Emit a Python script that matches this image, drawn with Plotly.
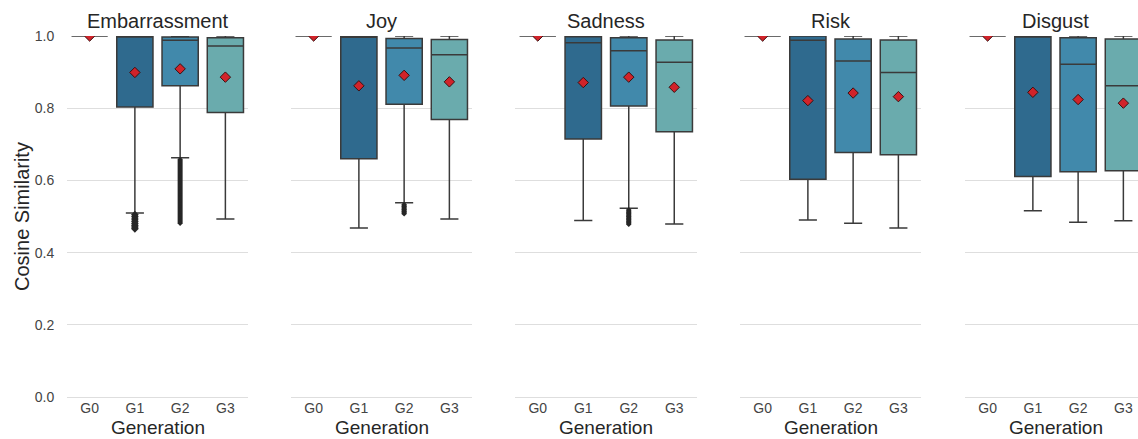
import plotly.graph_objects as go

emotions = ["Embarrassment", "Joy", "Sadness", "Risk", "Disgust"]
generations = ["G0", "G1", "G2", "G3"]
gen_colors = ["#24526f", "#2f6a8e", "#4189ab", "#6aabad"]

# rows = emotions, columns = G0..G3
q1_values = [
    [1.0, 0.803, 0.862, 0.788],
    [1.0, 0.660, 0.811, 0.769],
    [1.0, 0.715, 0.806, 0.735],
    [1.0, 0.603, 0.677, 0.671],
    [1.0, 0.611, 0.624, 0.627],
]
median_values = [
    [1.0, 0.999, 0.988, 0.972],
    [1.0, 0.998, 0.967, 0.948],
    [1.0, 0.981, 0.959, 0.927],
    [1.0, 0.988, 0.931, 0.899],
    [1.0, 0.999, 0.922, 0.862],
]
q3_values = [
    [1.0, 1.0, 0.997, 0.995],
    [1.0, 0.999, 0.993, 0.990],
    [1.0, 0.998, 0.995, 0.989],
    [1.0, 1.0, 0.992, 0.989],
    [1.0, 1.0, 0.995, 0.992],
]
lower_whisker = [
    [1.0, 0.510, 0.663, 0.493],
    [1.0, 0.468, 0.538, 0.493],
    [1.0, 0.489, 0.523, 0.479],
    [1.0, 0.490, 0.481, 0.468],
    [1.0, 0.516, 0.484, 0.488],
]
upper_whisker = [
    [1.0, 1.0, 1.0, 1.0],
    [1.0, 1.0, 1.0, 1.0],
    [1.0, 1.0, 1.0, 1.0],
    [1.0, 1.0, 1.0, 1.0],
    [1.0, 1.0, 1.0, 1.0],
]
mean_values = [
    [1.0, 0.899, 0.909, 0.886],
    [1.0, 0.862, 0.891, 0.873],
    [1.0, 0.871, 0.886, 0.858],
    [1.0, 0.821, 0.842, 0.832],
    [1.0, 0.844, 0.824, 0.814],
]

# outliers below the lower whisker
outliers_embarrassment_g1 = [0.505, 0.499, 0.493, 0.487, 0.481, 0.476, 0.471, 0.466]
outliers_embarrassment_g2 = [0.660, 0.645, 0.628, 0.611, 0.594, 0.577, 0.560,
                             0.543, 0.527, 0.512, 0.498, 0.487, 0.479]
outliers_joy_g2 = [0.534, 0.527, 0.520, 0.513, 0.507]
outliers_sadness_g2 = [0.519, 0.510, 0.501, 0.493, 0.485, 0.478]
outlier_sets = [
    (0, "G1", outliers_embarrassment_g1, 6),
    (0, "G2", outliers_embarrassment_g2, 3),
    (1, "G2", outliers_joy_g2, 4),
    (2, "G2", outliers_sadness_g2, 4),
]

y_ticks = [0.0, 0.2, 0.4, 0.6, 0.8, 1.0]

W, H = 1138, 439
panel_px = [(67, 248), (291, 472), (515, 697), (740, 921), (965, 1146)]
unit_px = (248 - 67) / 4.0

FONT = "Liberation Sans, Arial, sans-serif"
fig = go.Figure()

for i, emo in enumerate(emotions):
    ax = "" if i == 0 else str(i + 1)
    for j, g in enumerate(generations):
        fig.add_trace(go.Box(
            x=[g], q1=[q1_values[i][j]], median=[median_values[i][j]],
            q3=[q3_values[i][j]], lowerfence=[lower_whisker[i][j]],
            upperfence=[upper_whisker[i][j]],
            fillcolor=gen_colors[j], line=dict(color="#3a3a3a", width=1.5),
            width=0.8, whiskerwidth=0.5, boxpoints=False, showlegend=False,
            hoverinfo="skip", xaxis="x" + ax, yaxis="y" + ax))
    for (ei, g, vals, msize) in outlier_sets:
        if ei == i:
            fig.add_trace(go.Scatter(
                x=[g] * len(vals), y=vals, mode="lines+markers",
                line=dict(color="#262626", width=5),
                marker=dict(symbol="diamond", size=msize, color="#262626"),
                showlegend=False, hoverinfo="skip",
                xaxis="x" + ax, yaxis="y" + ax))
    fig.add_trace(go.Scatter(
        x=generations, y=mean_values[i], mode="markers",
        marker=dict(symbol="diamond", size=8, color="#d1232a",
                    line=dict(color="#3a1010", width=1)),
        showlegend=False, hoverinfo="skip", cliponaxis=True,
        xaxis="x" + ax, yaxis="y" + ax))

y_bottom_px = 397 + 0.004 * 361
ydom = [1 - y_bottom_px / H, 1 - 36 / H]

layout = dict(
    width=W, height=H, margin=dict(l=0, r=0, t=0, b=0, autoexpand=False),
    paper_bgcolor="white", plot_bgcolor="white",
    font=dict(family=FONT, color="#333333"),
    annotations=[],
)
for i, (a, b) in enumerate(panel_px):
    ax = "" if i == 0 else str(i + 1)
    x0 = a / W
    x1 = min(b, W) / W
    xr_hi = 3.5 - max(0, b - W) / unit_px
    layout["xaxis" + ax] = dict(
        domain=[x0, x1], type="category", categoryorder="array",
        categoryarray=generations, range=[-0.5, xr_hi], automargin=False,
        showgrid=False, zeroline=False, showline=False, ticks="",
        tickfont=dict(size=14, color="#444444"), anchor="y" + ax)
    layout["yaxis" + ax] = dict(
        domain=ydom, range=[-0.004, 1.0], tickvals=y_ticks, automargin=False,
        ticktext=[f"{v:.1f}" for v in y_ticks],
        showticklabels=(i == 0), showgrid=True, gridcolor="#dedede",
        gridwidth=1, zeroline=False, showline=False,
        ticks="outside" if i == 0 else "", ticklen=9,
        tickcolor="rgba(0,0,0,0)",
        tickfont=dict(size=14, color="#444444"), anchor="x" + ax)
    cx = (a + b) / 2 / W
    layout["annotations"].append(dict(
        text=emotions[i], x=cx, y=1 - 21 / H, xref="paper", yref="paper",
        showarrow=False, font=dict(size=20, color="#262626"),
        xanchor="center", yanchor="middle"))
    layout["annotations"].append(dict(
        text="Generation", x=cx, y=1 - 427 / H, xref="paper", yref="paper",
        showarrow=False, font=dict(size=19, color="#262626"),
        xanchor="center", yanchor="middle"))

layout["annotations"].append(dict(
    text="Cosine Similarity", x=22 / W, y=1 - 217 / H, xref="paper",
    yref="paper", showarrow=False, textangle=-90,
    font=dict(size=20, color="#262626"), xanchor="center", yanchor="middle"))

fig.update_layout(**layout)
fig.write_html("out.html")
